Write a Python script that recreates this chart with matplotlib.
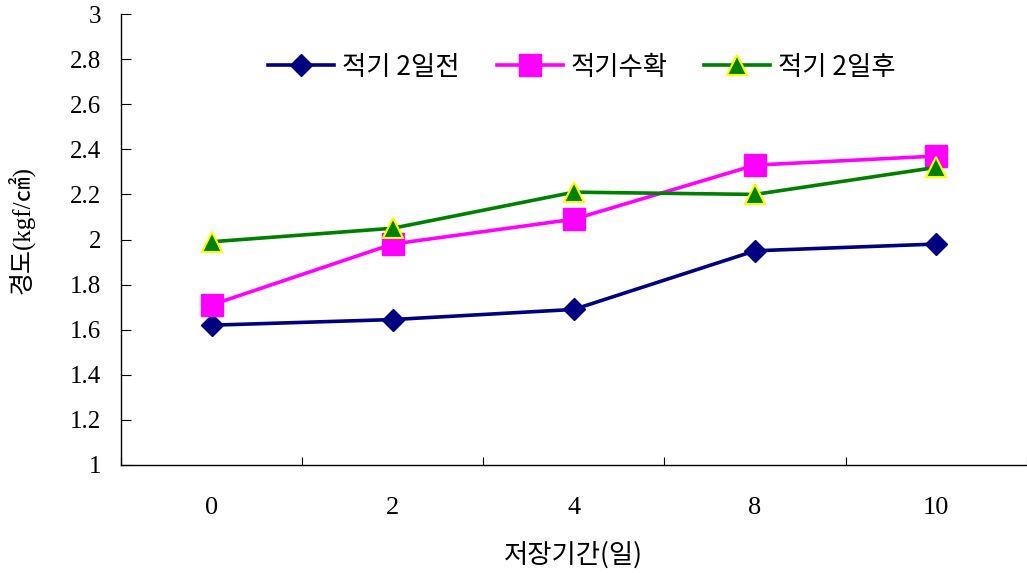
import matplotlib.pyplot as plt
import numpy as np

# storage period (days) and hardness values
days = ['0', '2', '4', '8', '10']
before_2d = [1.62, 1.645, 1.69, 1.95, 1.98]
on_time = [1.71, 1.98, 2.09, 2.33, 2.37]
after_2d = [1.99, 2.05, 2.21, 2.20, 2.32]
series_names = ['적기 2일전', '적기수확', '적기 2일후']
y_ticks = [1, 1.2, 1.4, 1.6, 1.8, 2, 2.2, 2.4, 2.6, 2.8, 3]
y_tick_labels = ['1', '1.2', '1.4', '1.6', '1.8', '2', '2.2', '2.4', '2.6', '2.8', '3']

plt.rcParams['font.family'] = ['Liberation Serif', 'Noto Sans CJK KR', 'DejaVu Sans']

fig = plt.figure(figsize=(10.27, 5.73), dpi=100)
ax = fig.add_axes([0.1178, 0.1885, 0.882, 0.787])

x = np.arange(len(days))
ax.plot(x, before_2d, color='#000080', lw=2.6, marker='D', ms=11.5,
        mfc='#000080', mec='#000080', label=series_names[0], zorder=3)
ax.plot(x, on_time, color='#FF00FF', lw=2.6, marker='s', ms=16.5,
        mfc='#FF00FF', mec='#FF00FF', label=series_names[1], zorder=3)
ax.plot(x, after_2d, color='#008000', lw=2.6, marker='^', ms=14.5,
        mfc='#008000', mec='#FFFF00', mew=1.5, label=series_names[2], zorder=4)

ax.set_xlim(-0.5, 4.5)
ax.set_ylim(1, 3)
ax.set_yticks(y_ticks)
ax.set_yticklabels(y_tick_labels)
ax.set_xticks(x)
ax.set_xticklabels(days)
ax.set_xticks(np.arange(-0.5, 4.6, 1), minor=True)
ax.tick_params(axis='x', which='major', length=0, pad=23, labelsize=19)
ax.tick_params(axis='x', which='minor', direction='in', length=6, width=0.8)
ax.tick_params(axis='y', direction='in', length=7, width=0.8, labelsize=18, pad=14)

for s in ['top', 'right']:
    ax.spines[s].set_visible(False)
for s in ['left', 'bottom']:
    ax.spines[s].set_linewidth(1.0)

ax.set_xlabel('저장기간(일)', fontsize=19, family=['Noto Sans CJK KR'], labelpad=16)
ax.set_ylabel('경도(kgf/㎠)', fontsize=18, family=['Liberation Serif', 'Noto Sans CJK KR'])
ax.yaxis.set_label_coords(-0.096, 0.52)

leg = ax.legend(loc='upper center', bbox_to_anchor=(0.509, 0.965), ncol=3, frameon=False,
                prop={'family': ['Noto Sans CJK KR'], 'size': 19},
                handlelength=2.5, columnspacing=1.4, handletextpad=0.3)

fig.savefig('out.png', dpi=100)
